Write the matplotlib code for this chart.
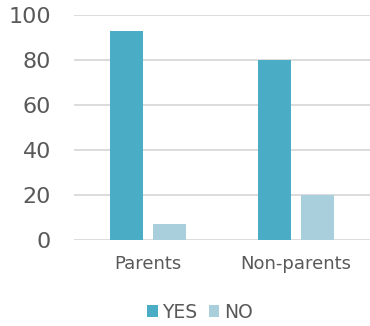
import numpy as np
import matplotlib.pyplot as plt

plt.rcParams['font.family'] = 'DejaVu Sans'

categories = ['Parents', 'Non-parents']
yes_vals = [93, 80]
no_vals = [7, 20]
yticks = [0, 20, 40, 60, 80, 100]

text_col = '#595959'
yes_col = '#4BACC6'
no_col = '#A9CFDC'

fig = plt.figure(figsize=(3.7, 3.26), dpi=100)
ax = fig.add_axes([74/370, 1 - 240/326, 296/370, 225/326])

x = np.arange(len(categories))
w = 0.223
ax.bar(x - 0.145, yes_vals, width=w, color=yes_col, label='YES', zorder=3)
ax.bar(x + 0.142, no_vals, width=w, color=no_col, label='NO', zorder=3)

ax.set_xlim(-0.5, 1.5)
ax.set_ylim(0, 100)
ax.set_yticks(yticks)
ax.set_xticks(x)
ax.set_xticklabels(categories)
ax.yaxis.grid(True, color='#D9D9D9', linewidth=1.3, zorder=0)
ax.set_axisbelow(True)
for s in ax.spines.values():
    s.set_visible(False)
ax.tick_params(axis='y', length=0, pad=16.5, labelsize=16, labelcolor=text_col)
ax.tick_params(axis='x', length=0, pad=10.5, labelsize=13, labelcolor=text_col)

# legend sits a bit left of the plot centre
leg = fig.legend(loc='center', bbox_to_anchor=(200/370, 1 - 312/326), ncol=2, frameon=False,
                 fontsize=13.5, handlelength=0.55, handleheight=0.55, handletextpad=0.25,
                 columnspacing=0.6, labelcolor=text_col)

fig.savefig('out.png', dpi=100)
